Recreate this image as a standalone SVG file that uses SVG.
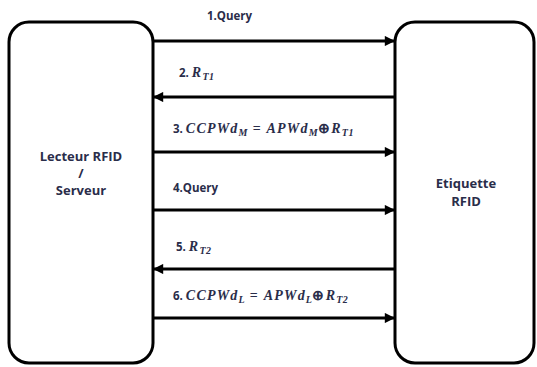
<svg xmlns="http://www.w3.org/2000/svg" width="537" height="367" viewBox="0 0 537 367">
<defs>
<marker id="ah" viewBox="0 0 10 10" refX="10" refY="5" markerWidth="4" markerHeight="3.4" orient="auto" markerUnits="strokeWidth">
<path d="M0,0 L10,5 L0,10 Z" fill="#000"/>
</marker>
<style>
.box{fill:#fff;stroke:#000;stroke-width:3}
.conn{stroke:#000;stroke-width:3;fill:none;marker-end:url(#ah)}
.lbl{font-family:"Open Sans","Liberation Sans",sans-serif;font-weight:bold;font-size:11.5px;fill:#2a2d4a}
.m{font-family:"Liberation Serif",serif;font-style:italic;font-weight:bold;font-size:14px;letter-spacing:1.2px}
.s{font-size:10px;letter-spacing:0.5px}
.node{font-family:"Open Sans","Liberation Sans",sans-serif;font-weight:bold;font-size:13px;fill:#2a2d4a;text-anchor:middle}
</style>
</defs>
<rect width="537" height="367" fill="#fff"/>
<g id="lecteur">
<rect class="box" x="9" y="22" width="144" height="341" rx="20" ry="20"/>
<text class="node" x="81" y="161">Lecteur RFID</text>
<text class="node" x="81" y="178">/</text>
<text class="node" x="81" y="195">Serveur</text>
</g>
<g id="etiquette">
<rect class="box" x="395" y="22" width="139" height="341" rx="20" ry="20"/>
<text class="node" x="466" y="188">Etiquette</text>
<text class="node" x="466" y="206">RFID</text>
</g>
<g id="connectors">
<line class="conn" x1="153" y1="41" x2="395" y2="41"/>
<line class="conn" x1="395" y1="97" x2="153" y2="97"/>
<line class="conn" x1="153" y1="152" x2="395" y2="152"/>
<line class="conn" x1="153" y1="210" x2="395" y2="210"/>
<line class="conn" x1="395" y1="269" x2="153" y2="269"/>
<line class="conn" x1="153" y1="318" x2="395" y2="318"/>
</g>
<g id="labels">
<text class="lbl" x="207" y="20">1.Query</text>
<text class="lbl" x="179" y="77">2. <tspan class="m">R<tspan class="s" dy="3">T1</tspan></tspan></text>
<text class="lbl" x="173" y="133">3. <tspan class="m">CCPWd<tspan class="s" dy="3">M</tspan><tspan dy="-3" font-style="normal"> = </tspan>APWd<tspan class="s" dy="3">M</tspan><tspan dy="-3" font-style="normal">⊕</tspan>R<tspan class="s" dy="3">T1</tspan></tspan></text>
<text class="lbl" x="173" y="192">4.Query</text>
<text class="lbl" x="176" y="251">5. <tspan class="m">R<tspan class="s" dy="3">T2</tspan></tspan></text>
<text class="lbl" x="173" y="300">6. <tspan class="m">CCPWd<tspan class="s" dy="3">L</tspan><tspan dy="-3" font-style="normal"> = </tspan>APWd<tspan class="s" dy="3">L</tspan><tspan dy="-3" font-style="normal">⊕</tspan>R<tspan class="s" dy="3">T2</tspan></tspan></text>
</g>
</svg>
